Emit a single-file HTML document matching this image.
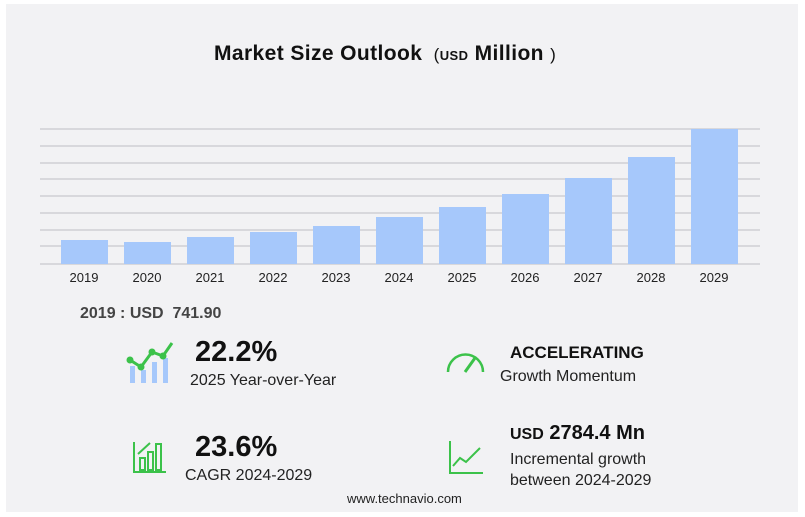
<!DOCTYPE html>
<html><head><meta charset="utf-8"><style>
body{margin:0;width:805px;height:517px;background:#fff;font-family:"Liberation Sans",sans-serif;position:relative;overflow:hidden}
.card{position:absolute;left:6px;top:4px;width:792px;height:508px;background:#f2f2f4}
.t{position:absolute;white-space:nowrap;color:#111}
</style></head><body>
<div class="card"></div>
<div class="t" style="left:214px;top:42px;font-size:21px;font-weight:bold;letter-spacing:0.4px">Market Size Outlook <span style="font-weight:normal;font-size:17px">&nbsp;(</span><span style="font-size:13px">USD</span> Million <span style="font-weight:normal;font-size:17px">)</span></div>
<svg style="position:absolute;left:0;top:0" width="805" height="517">
<g stroke="#d0d0d4" stroke-width="1.5">
<line x1="40" x2="760" y1="129" y2="129"/><line x1="40" x2="760" y1="146" y2="146"/><line x1="40" x2="760" y1="163" y2="163"/><line x1="40" x2="760" y1="179" y2="179"/><line x1="40" x2="760" y1="196" y2="196"/><line x1="40" x2="760" y1="213" y2="213"/><line x1="40" x2="760" y1="230" y2="230"/><line x1="40" x2="760" y1="246" y2="246"/><line x1="40" x2="760" y1="264" y2="264"/>
</g>
<g fill="#a6c8fb">
<rect x="61" y="240" width="47" height="24"/><rect x="124" y="242" width="47" height="22"/><rect x="187" y="237" width="47" height="27"/><rect x="250" y="232" width="47" height="32"/><rect x="313" y="226" width="47" height="38"/><rect x="376" y="217" width="47" height="47"/><rect x="439" y="207" width="47" height="57"/><rect x="502" y="194" width="47" height="70"/><rect x="565" y="178" width="47" height="86"/><rect x="628" y="157" width="47" height="107"/><rect x="691" y="129" width="47" height="135"/>
</g>
<g font-size="13" fill="#222" text-anchor="middle" font-family="Liberation Sans">
<text x="84" y="282">2019</text><text x="147" y="282">2020</text><text x="210" y="282">2021</text><text x="273" y="282">2022</text><text x="336" y="282">2023</text><text x="399" y="282">2024</text><text x="462" y="282">2025</text><text x="525" y="282">2026</text><text x="588" y="282">2027</text><text x="651" y="282">2028</text><text x="714" y="282">2029</text>
</g>
<g fill="#a6c8fb"><rect x="130" y="366" width="5" height="17"/><rect x="141" y="370" width="5" height="13"/><rect x="152" y="362" width="5" height="21"/><rect x="163" y="358" width="5" height="25"/></g>
<polyline points="130,360 141,367 152,352 163,356 172,343" fill="none" stroke="#3cc24a" stroke-width="3"/>
<g fill="#3cc24a"><circle cx="130" cy="360" r="3.5"/><circle cx="141" cy="367" r="3.5"/><circle cx="152" cy="352" r="3.5"/><circle cx="163" cy="356" r="3.5"/></g>
<path d="M448 372 A17 17 0 0 1 483 372" fill="none" stroke="#3cc24a" stroke-width="2.5"/>
<line x1="465" y1="372" x2="475" y2="358" stroke="#3cc24a" stroke-width="3"/>
<g fill="none" stroke="#3cc24a" stroke-width="2">
<path d="M134 442 V472 H166"/><rect x="140" y="458" width="5" height="12"/><rect x="148" y="452" width="5" height="18"/><rect x="156" y="444" width="5" height="26"/><path d="M138 454 L150 443"/>
<path d="M450 441 V473 H483"/><path d="M453 466 L460 458 L466 462 L480 448"/>
</g>
</svg>
<div class="t" style="left:80px;top:305px;font-size:16px;font-weight:bold;color:#444">2019 : USD&nbsp; 741.90</div>
<div class="t" style="left:195px;top:336px;font-size:29px;font-weight:bold">22.2%</div>
<div class="t" style="left:190px;top:372px;font-size:16px;color:#222">2025 Year-over-Year</div>
<div class="t" style="left:510px;top:343px;font-size:17px;font-weight:bold">ACCELERATING</div>
<div class="t" style="left:500px;top:368px;font-size:16px;color:#222">Growth Momentum</div>
<div class="t" style="left:195px;top:431px;font-size:29px;font-weight:bold">23.6%</div>
<div class="t" style="left:185px;top:467px;font-size:16px;color:#222">CAGR 2024-2029</div>
<div class="t" style="left:510px;top:422px;font-size:20px;font-weight:bold"><span style="font-size:16px">USD</span> 2784.4 Mn</div>
<div class="t" style="left:510px;top:451px;font-size:16px;color:#222">Incremental growth</div>
<div class="t" style="left:510px;top:472px;font-size:16px;color:#222">between 2024-2029</div>
<div class="t" style="left:347px;top:491px;font-size:13px;color:#222">www.technavio.com</div>
</body></html>
